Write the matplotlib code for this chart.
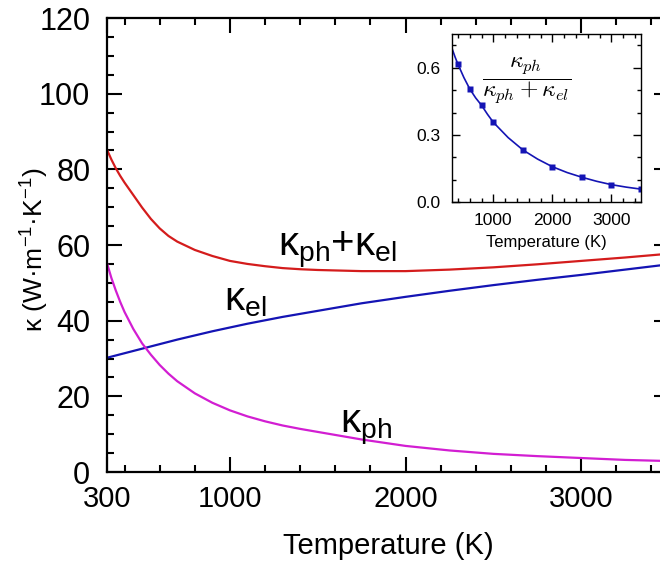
import matplotlib
matplotlib.use("Agg")
import matplotlib.pyplot as plt
from matplotlib.ticker import MultipleLocator, FixedLocator

plt.rcParams['font.family'] = ['Liberation Sans', 'DejaVu Sans']
plt.rcParams['mathtext.fontset'] = 'custom'
plt.rcParams['mathtext.rm'] = 'Liberation Sans'
plt.rcParams['mathtext.it'] = 'Liberation Sans:italic'
plt.rcParams['mathtext.bf'] = 'Liberation Sans:bold'

# main panel data
temp = [300, 325, 350, 375, 400, 450, 500, 550, 600, 650, 700, 800, 900, 1000, 1100,
        1200, 1300, 1400, 1500, 1750, 2000, 2250, 2500, 2750, 3000, 3250, 3500]
k_total = [85.2, 82.6, 80.3, 78.3, 76.5, 73.2, 69.9, 66.9, 64.4, 62.4, 60.9, 58.7, 57.1, 55.8, 55.0,
           54.4, 53.9, 53.6, 53.4, 53.1, 53.1, 53.5, 54.1, 54.9, 55.8, 56.7, 57.7]
k_el = [30.2, 30.5, 30.8, 31.1, 31.4, 32.0, 32.6, 33.2, 33.8, 34.4, 35.0, 36.1, 37.2, 38.2, 39.2,
        40.1, 41.0, 41.8, 42.6, 44.6, 46.3, 47.9, 49.4, 50.8, 52.1, 53.5, 54.9]
k_ph = [55.2, 51.3, 48.0, 45.0, 42.3, 37.8, 34.0, 31.0, 28.3, 26.0, 24.0, 20.8, 18.3, 16.3, 14.7,
        13.4, 12.3, 11.4, 10.6, 8.6, 6.9, 5.7, 4.8, 4.2, 3.7, 3.2, 2.9]

# inset data
ratio_T = [400, 600, 800, 1000, 1500, 2000, 2500, 3000, 3500]
ratio = [0.615, 0.505, 0.432, 0.356, 0.233, 0.158, 0.111, 0.078, 0.058]
fit_T = [300, 350, 400, 500, 600, 700, 800, 900, 1000, 1250, 1500, 1750, 2000, 2250, 2500, 2750, 3000, 3250, 3500]
fit = [0.685, 0.648, 0.615, 0.556, 0.505, 0.465, 0.432, 0.392, 0.356, 0.288, 0.233, 0.192, 0.158,
       0.132, 0.111, 0.093, 0.078, 0.067, 0.058]

red = '#d41c1c'
blue = '#1414b4'
magenta = '#d21ed2'

fig = plt.figure(figsize=(6.6, 5.63), dpi=100)
ax = fig.add_axes([0.1621, 0.1616, 0.8515, 0.8064])

ax.plot(temp, k_total, color=red, lw=1.6)
ax.plot(temp, k_el, color=blue, lw=1.6)
ax.plot(temp, k_ph, color=magenta, lw=1.6)

ax.set_xlim(300, 3500)
ax.set_ylim(0, 120)
ax.xaxis.set_major_locator(FixedLocator([300, 1000, 2000, 3000]))
ax.xaxis.set_minor_locator(FixedLocator([t for t in range(400, 3600, 200) if t % 1000 != 0]))
ax.yaxis.set_major_locator(MultipleLocator(20))
ax.yaxis.set_minor_locator(MultipleLocator(5))
ax.tick_params(which='both', direction='in', top=True, right=True, width=1.5)
ax.tick_params(which='major', length=11)
ax.tick_params(which='minor', length=5)
ax.tick_params(axis='x', which='major', pad=9, labelsize=21)
ax.tick_params(axis='y', which='major', pad=12, labelsize=22)
for s in ax.spines.values():
    s.set_linewidth(1.6)

ax.set_xlabel('Temperature (K)', fontsize=21, labelpad=14)
ax.set_ylabel(r'κ (W·m$^{\mathregular{-1}}$·K$^{\mathregular{-1}}$)', fontsize=19)
ax.yaxis.set_label_coords(-0.1, 0.49)

ax.text(1274, 57.3, r'$\mathregular{κ_{ph}{+}κ_{el}}$', fontsize=29, ha='left', va='baseline')
ax.text(965, 42.6, r'$\mathregular{κ_{el}}$', fontsize=29, ha='left', va='baseline')
ax.text(1627, 10.6, r'$\mathregular{κ_{ph}}$', fontsize=29, ha='left', va='baseline')

# inset
axi = fig.add_axes([0.685, 0.641, 0.286, 0.2984])
axi.plot(fit_T, fit, color=blue, lw=1.2)
axi.plot(ratio_T, ratio, 's', color=blue, ms=4.5, mec='none')
axi.set_xlim(300, 3500)
axi.set_ylim(0, 0.75)
axi.xaxis.set_major_locator(FixedLocator([1000, 2000, 3000]))
axi.xaxis.set_minor_locator(FixedLocator([t for t in range(400, 3600, 200) if t % 1000 != 0]))
axi.yaxis.set_major_locator(MultipleLocator(0.3))
axi.yaxis.set_minor_locator(MultipleLocator(0.1))
axi.tick_params(which='both', direction='in', top=True, right=True, width=1.0, labelsize=12.5)
axi.tick_params(which='major', length=6, pad=8)
axi.tick_params(which='minor', length=3)
for s in axi.spines.values():
    s.set_linewidth(1.0)
axi.set_xlabel('Temperature (K)', fontsize=12, labelpad=5)
axi.text(0.397, 0.726, r'$\dfrac{\kappa_{ph}}{\kappa_{ph}+\kappa_{el}}$', transform=axi.transAxes,
         fontsize=17, ha='center', va='center', math_fontfamily='cm')

fig.savefig('out.png', dpi=100)
